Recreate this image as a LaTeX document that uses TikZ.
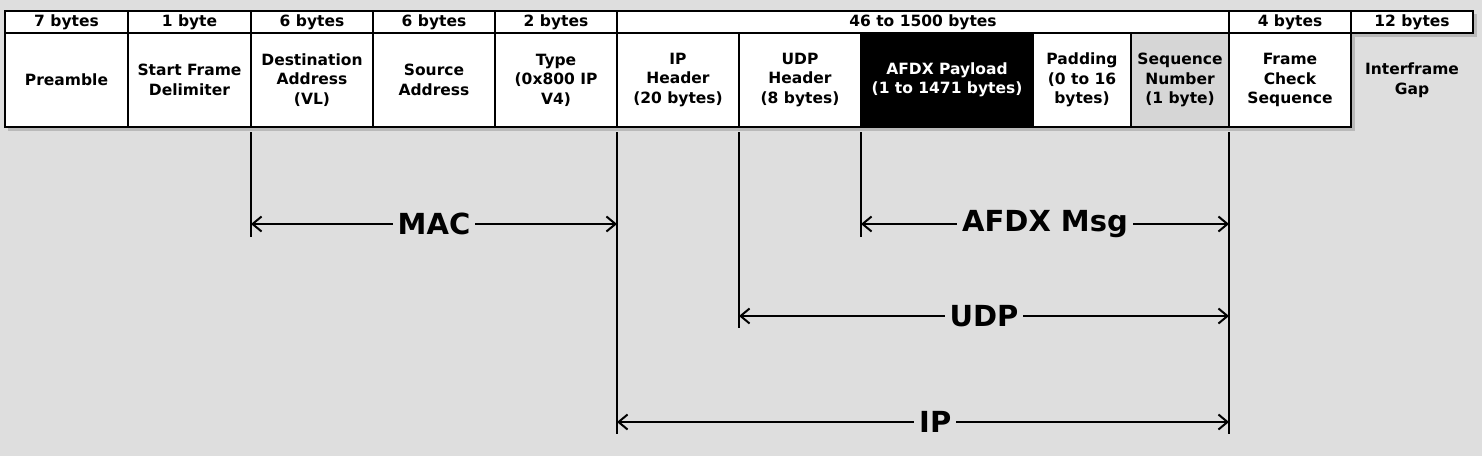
\documentclass[tikz,border=0pt]{standalone}
\usepackage{fontspec}
\setmainfont{DejaVu Sans}
\usetikzlibrary{positioning,arrows.meta}
\definecolor{bggray}{RGB}{222,222,222}
\definecolor{seqgray}{RGB}{214,214,214}
\definecolor{shadegray}{RGB}{185,185,185}

\begin{document}
\begin{tikzpicture}[x=1pt,y=-1pt,
    field/.style={draw=black, line width=2.4pt, fill=white, outer sep=0pt, inner sep=0pt,
        minimum height=94pt, align=center, font=\fontsize{15.5}{19.5}\selectfont\bfseries},
    sizebox/.style={field, minimum height=22pt},
    edge/.style={line width=2pt},
    span/.style={line width=2pt, {Straight Barb[length=9pt,width=15pt]}-{Straight Barb[length=9pt,width=15pt]}},
    tag/.style={fill=bggray, inner xsep=5pt, inner ysep=0pt, font=\fontsize{29}{29}\selectfont\bfseries}]
    %Background and shadow
    \fill[bggray] (0,0) rectangle (1482,456);
    \useasboundingbox (0,0) rectangle (1482,456);
    \fill[shadegray] (8,14) rectangle (1477,37);
    \fill[shadegray] (8,36) rectangle (1355,131);

    %Fields
    \node[field, minimum width=123pt, anchor=north west] (pre) at (5,33) {Preamble};
    \node[field, minimum width=123pt] (sfd)  [right=0pt of pre] {Start Frame\\Delimiter};
    \node[field, minimum width=122pt] (dst)  [right=0pt of sfd] {Destination\\Address\\(VL)};
    \node[field, minimum width=122pt] (src)  [right=0pt of dst] {Source\\Address};
    \node[field, minimum width=122pt] (typ)  [right=0pt of src] {Type\\(0x800 IP\\V4)};
    \node[field, minimum width=122pt] (iph)  [right=0pt of typ] {IP\\Header\\(20 bytes)};
    \node[field, minimum width=122pt] (udph) [right=0pt of iph] {UDP\\Header\\(8 bytes)};
    \node[field, minimum width=172pt, fill=black, text=white] (pay) [right=0pt of udph] {AFDX Payload\\(1 to 1471 bytes)};
    \node[field, minimum width=98pt]  (pad)  [right=0pt of pay] {Padding\\(0 to 16\\bytes)};
    \node[field, minimum width=98pt, fill=seqgray] (seq) [right=0pt of pad] {Sequence\\Number\\(1 byte)};
    \node[field, minimum width=122pt] (fcs)  [right=0pt of seq] {Frame\\Check\\Sequence};
    \node[field, minimum width=122pt, draw=none, fill=none] (gap) [right=0pt of fcs] {Interframe\\Gap};

    %Sizes
    \node[sizebox, minimum width=123pt] (s7)  [above=0pt of pre] {7 bytes};
    \node[sizebox, minimum width=123pt] (s1)  [above=0pt of sfd] {1 byte};
    \node[sizebox, minimum width=122pt] (s6a) [above=0pt of dst] {6 bytes};
    \node[sizebox, minimum width=122pt] (s6b) [above=0pt of src] {6 bytes};
    \node[sizebox, minimum width=122pt] (s2)  [above=0pt of typ] {2 bytes};
    \node[sizebox, minimum width=612pt, anchor=south west] (s46) at (iph.north west) {46 to 1500 bytes};
    \node[sizebox, minimum width=122pt] (s4)  [above=0pt of fcs] {4 bytes};
    \node[sizebox, minimum width=122pt] (s12) [above=0pt of gap] {12 bytes};

    %Rows of the spans
    \coordinate (top)    at (0,132);
    \coordinate (msgrow) at (0,224);
    \coordinate (msgend) at (0,237);
    \coordinate (udprow) at (0,316);
    \coordinate (udpend) at (0,328);
    \coordinate (iprow)  at (0,422);
    \coordinate (ipend)  at (0,434);

    %Lines
    \draw[edge] (dst.south west |- top) -- (dst.south west |- msgend);
    \draw[edge] (iph.south west |- top) -- (iph.south west |- ipend);
    \draw[edge] (udph.south west |- top) -- (udph.south west |- udpend);
    \draw[edge] (pay.south west |- top) -- (pay.south west |- msgend);
    \draw[edge] (fcs.south west |- top) -- (fcs.south west |- ipend);

    %Spans
    \draw[span] (dst.south west |- msgrow) -- node[tag] {MAC} (iph.south west |- msgrow);
    \draw[span] (pay.south west |- msgrow) -- node[tag] {AFDX Msg} (fcs.south west |- msgrow);
    \draw[span] (udph.south west |- udprow) -- node[tag] {UDP} (fcs.south west |- udprow);
    \draw[span] (iph.south west |- iprow) -- node[tag, pos=0.52] {IP} (fcs.south west |- iprow);
\end{tikzpicture}
\end{document}
